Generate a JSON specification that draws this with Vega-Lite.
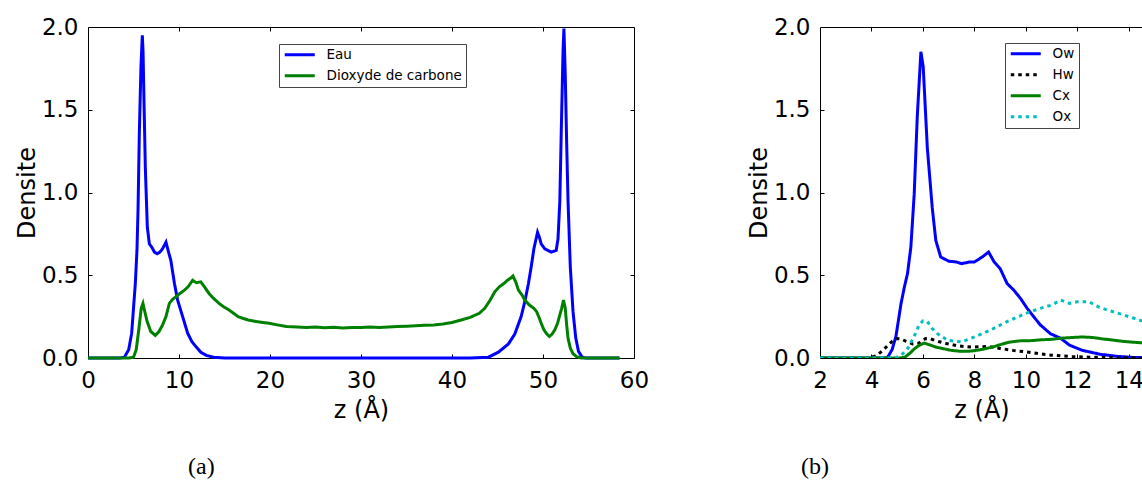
{
  "$schema": "https://vega.github.io/schema/vega-lite/v6.json",
  "padding": {"left": 14, "top": 15, "right": 0, "bottom": 0},
  "spacing": 97,
  "datasets": {
    "a": [
      {"s":"Eau","z":0,"d":0},{"s":"Eau","z":3.5,"d":0},{"s":"Eau","z":4.0,"d":0.005},{"s":"Eau","z":4.47,"d":0.05},{"s":"Eau","z":4.8,"d":0.15},{"s":"Eau","z":5.0,"d":0.3},{"s":"Eau","z":5.2,"d":0.45},{"s":"Eau","z":5.38,"d":0.65},{"s":"Eau","z":5.5,"d":0.9},{"s":"Eau","z":5.64,"d":1.36},{"s":"Eau","z":5.82,"d":1.76},{"s":"Eau","z":5.97,"d":1.95},{"s":"Eau","z":6.05,"d":1.85},{"s":"Eau","z":6.15,"d":1.56},{"s":"Eau","z":6.3,"d":1.15},{"s":"Eau","z":6.52,"d":0.79},{"s":"Eau","z":6.74,"d":0.69},{"s":"Eau","z":7.0,"d":0.67},{"s":"Eau","z":7.3,"d":0.64},{"s":"Eau","z":7.6,"d":0.63},{"s":"Eau","z":7.9,"d":0.64},{"s":"Eau","z":8.2,"d":0.66},{"s":"Eau","z":8.57,"d":0.7},{"s":"Eau","z":8.8,"d":0.65},{"s":"Eau","z":9.1,"d":0.59},{"s":"Eau","z":9.5,"d":0.45},{"s":"Eau","z":9.85,"d":0.35},{"s":"Eau","z":10.4,"d":0.25},{"s":"Eau","z":10.95,"d":0.15},{"s":"Eau","z":11.4,"d":0.1},{"s":"Eau","z":11.9,"d":0.066},{"s":"Eau","z":12.4,"d":0.035},{"s":"Eau","z":13.0,"d":0.016},{"s":"Eau","z":13.8,"d":0.005},{"s":"Eau","z":15,"d":0},{"s":"Eau","z":42,"d":0},{"s":"Eau","z":44,"d":0.005},{"s":"Eau","z":45.1,"d":0.035},{"s":"Eau","z":46.2,"d":0.085},{"s":"Eau","z":46.9,"d":0.145},{"s":"Eau","z":47.6,"d":0.25},{"s":"Eau","z":48.0,"d":0.34},{"s":"Eau","z":48.4,"d":0.45},{"s":"Eau","z":48.7,"d":0.55},{"s":"Eau","z":49.0,"d":0.66},{"s":"Eau","z":49.2,"d":0.71},{"s":"Eau","z":49.4,"d":0.76},{"s":"Eau","z":49.6,"d":0.73},{"s":"Eau","z":49.8,"d":0.69},{"s":"Eau","z":50.2,"d":0.66},{"s":"Eau","z":50.9,"d":0.64},{"s":"Eau","z":51.45,"d":0.65},{"s":"Eau","z":51.65,"d":0.72},{"s":"Eau","z":51.85,"d":0.95},{"s":"Eau","z":52.0,"d":1.35},{"s":"Eau","z":52.1,"d":1.6},{"s":"Eau","z":52.2,"d":1.85},{"s":"Eau","z":52.3,"d":1.99},{"s":"Eau","z":52.45,"d":1.7},{"s":"Eau","z":52.6,"d":1.3},{"s":"Eau","z":52.75,"d":0.95},{"s":"Eau","z":53.0,"d":0.55},{"s":"Eau","z":53.3,"d":0.28},{"s":"Eau","z":53.6,"d":0.12},{"s":"Eau","z":53.9,"d":0.04},{"s":"Eau","z":54.3,"d":0.005},{"s":"Eau","z":54.7,"d":0},{"s":"Eau","z":58.4,"d":0},
      {"s":"Dioxyde de carbone","z":0,"d":0},{"s":"Dioxyde de carbone","z":4.5,"d":0},{"s":"Dioxyde de carbone","z":5.0,"d":0.005},{"s":"Dioxyde de carbone","z":5.3,"d":0.05},{"s":"Dioxyde de carbone","z":5.6,"d":0.18},{"s":"Dioxyde de carbone","z":5.85,"d":0.3},{"s":"Dioxyde de carbone","z":6.04,"d":0.33},{"s":"Dioxyde de carbone","z":6.2,"d":0.29},{"s":"Dioxyde de carbone","z":6.5,"d":0.22},{"s":"Dioxyde de carbone","z":6.9,"d":0.16},{"s":"Dioxyde de carbone","z":7.4,"d":0.137},{"s":"Dioxyde de carbone","z":7.8,"d":0.16},{"s":"Dioxyde de carbone","z":8.2,"d":0.2},{"s":"Dioxyde de carbone","z":8.57,"d":0.25},{"s":"Dioxyde de carbone","z":8.94,"d":0.33},{"s":"Dioxyde de carbone","z":9.3,"d":0.355},{"s":"Dioxyde de carbone","z":9.67,"d":0.37},{"s":"Dioxyde de carbone","z":10.1,"d":0.39},{"s":"Dioxyde de carbone","z":10.6,"d":0.41},{"s":"Dioxyde de carbone","z":11.0,"d":0.43},{"s":"Dioxyde de carbone","z":11.5,"d":0.47},{"s":"Dioxyde de carbone","z":11.9,"d":0.455},{"s":"Dioxyde de carbone","z":12.4,"d":0.46},{"s":"Dioxyde de carbone","z":12.8,"d":0.43},{"s":"Dioxyde de carbone","z":13.3,"d":0.39},{"s":"Dioxyde de carbone","z":13.8,"d":0.36},{"s":"Dioxyde de carbone","z":14.4,"d":0.33},{"s":"Dioxyde de carbone","z":14.9,"d":0.31},{"s":"Dioxyde de carbone","z":15.5,"d":0.29},{"s":"Dioxyde de carbone","z":16.0,"d":0.27},{"s":"Dioxyde de carbone","z":16.5,"d":0.25},{"s":"Dioxyde de carbone","z":17.0,"d":0.24},{"s":"Dioxyde de carbone","z":17.6,"d":0.23},{"s":"Dioxyde de carbone","z":18.5,"d":0.22},{"s":"Dioxyde de carbone","z":19.2,"d":0.215},{"s":"Dioxyde de carbone","z":19.9,"d":0.21},{"s":"Dioxyde de carbone","z":20.8,"d":0.2},{"s":"Dioxyde de carbone","z":21.8,"d":0.19},{"s":"Dioxyde de carbone","z":23,"d":0.188},{"s":"Dioxyde de carbone","z":24,"d":0.185},{"s":"Dioxyde de carbone","z":25,"d":0.187},{"s":"Dioxyde de carbone","z":26,"d":0.183},{"s":"Dioxyde de carbone","z":27,"d":0.186},{"s":"Dioxyde de carbone","z":28,"d":0.182},{"s":"Dioxyde de carbone","z":29,"d":0.185},{"s":"Dioxyde de carbone","z":30,"d":0.184},{"s":"Dioxyde de carbone","z":31,"d":0.187},{"s":"Dioxyde de carbone","z":32,"d":0.185},{"s":"Dioxyde de carbone","z":33,"d":0.188},{"s":"Dioxyde de carbone","z":34,"d":0.19},{"s":"Dioxyde de carbone","z":35,"d":0.192},{"s":"Dioxyde de carbone","z":36,"d":0.195},{"s":"Dioxyde de carbone","z":37,"d":0.198},{"s":"Dioxyde de carbone","z":38,"d":0.2},{"s":"Dioxyde de carbone","z":39,"d":0.205},{"s":"Dioxyde de carbone","z":40,"d":0.215},{"s":"Dioxyde de carbone","z":41,"d":0.23},{"s":"Dioxyde de carbone","z":42,"d":0.245},{"s":"Dioxyde de carbone","z":43,"d":0.27},{"s":"Dioxyde de carbone","z":43.6,"d":0.3},{"s":"Dioxyde de carbone","z":44.2,"d":0.35},{"s":"Dioxyde de carbone","z":44.7,"d":0.4},{"s":"Dioxyde de carbone","z":45.2,"d":0.43},{"s":"Dioxyde de carbone","z":45.7,"d":0.45},{"s":"Dioxyde de carbone","z":46.1,"d":0.47},{"s":"Dioxyde de carbone","z":46.5,"d":0.485},{"s":"Dioxyde de carbone","z":46.7,"d":0.495},{"s":"Dioxyde de carbone","z":47.0,"d":0.46},{"s":"Dioxyde de carbone","z":47.3,"d":0.41},{"s":"Dioxyde de carbone","z":47.7,"d":0.38},{"s":"Dioxyde de carbone","z":48.0,"d":0.35},{"s":"Dioxyde de carbone","z":48.5,"d":0.32},{"s":"Dioxyde de carbone","z":49.0,"d":0.3},{"s":"Dioxyde de carbone","z":49.3,"d":0.28},{"s":"Dioxyde de carbone","z":49.6,"d":0.24},{"s":"Dioxyde de carbone","z":49.8,"d":0.21},{"s":"Dioxyde de carbone","z":50.1,"d":0.17},{"s":"Dioxyde de carbone","z":50.4,"d":0.147},{"s":"Dioxyde de carbone","z":50.7,"d":0.13},{"s":"Dioxyde de carbone","z":51.0,"d":0.145},{"s":"Dioxyde de carbone","z":51.3,"d":0.17},{"s":"Dioxyde de carbone","z":51.6,"d":0.21},{"s":"Dioxyde de carbone","z":51.8,"d":0.25},{"s":"Dioxyde de carbone","z":52.05,"d":0.3},{"s":"Dioxyde de carbone","z":52.25,"d":0.35},{"s":"Dioxyde de carbone","z":52.45,"d":0.3},{"s":"Dioxyde de carbone","z":52.6,"d":0.2},{"s":"Dioxyde de carbone","z":52.75,"d":0.12},{"s":"Dioxyde de carbone","z":53.0,"d":0.06},{"s":"Dioxyde de carbone","z":53.3,"d":0.026},{"s":"Dioxyde de carbone","z":53.7,"d":0.008},{"s":"Dioxyde de carbone","z":54.2,"d":0},{"s":"Dioxyde de carbone","z":58.4,"d":0}
    ],
    "b": [
      {"s":"Ow","z":2,"d":0},{"s":"Ow","z":4.5,"d":0},{"s":"Ow","z":4.63,"d":0.005},{"s":"Ow","z":4.8,"d":0.05},{"s":"Ow","z":4.95,"d":0.13},{"s":"Ow","z":5.15,"d":0.33},{"s":"Ow","z":5.28,"d":0.43},{"s":"Ow","z":5.4,"d":0.51},{"s":"Ow","z":5.53,"d":0.67},{"s":"Ow","z":5.66,"d":0.99},{"s":"Ow","z":5.78,"d":1.46},{"s":"Ow","z":5.92,"d":1.85},{"s":"Ow","z":6.01,"d":1.76},{"s":"Ow","z":6.17,"d":1.27},{"s":"Ow","z":6.36,"d":0.91},{"s":"Ow","z":6.5,"d":0.71},{"s":"Ow","z":6.69,"d":0.61},{"s":"Ow","z":7.0,"d":0.585},{"s":"Ow","z":7.3,"d":0.58},{"s":"Ow","z":7.5,"d":0.57},{"s":"Ow","z":7.8,"d":0.58},{"s":"Ow","z":8.0,"d":0.58},{"s":"Ow","z":8.3,"d":0.61},{"s":"Ow","z":8.55,"d":0.64},{"s":"Ow","z":8.77,"d":0.58},{"s":"Ow","z":9.0,"d":0.54},{"s":"Ow","z":9.27,"d":0.45},{"s":"Ow","z":9.53,"d":0.41},{"s":"Ow","z":9.79,"d":0.36},{"s":"Ow","z":10.05,"d":0.3},{"s":"Ow","z":10.3,"d":0.25},{"s":"Ow","z":10.56,"d":0.2},{"s":"Ow","z":10.95,"d":0.147},{"s":"Ow","z":11.34,"d":0.12},{"s":"Ow","z":11.7,"d":0.077},{"s":"Ow","z":12.2,"d":0.046},{"s":"Ow","z":12.9,"d":0.022},{"s":"Ow","z":13.55,"d":0.01},{"s":"Ow","z":14.2,"d":0.003},{"s":"Ow","z":14.8,"d":0.001},
      {"s":"Hw","z":2,"d":0},{"s":"Hw","z":3.8,"d":0},{"s":"Hw","z":4.0,"d":0.004},{"s":"Hw","z":4.2,"d":0.015},{"s":"Hw","z":4.4,"d":0.04},{"s":"Hw","z":4.6,"d":0.07},{"s":"Hw","z":4.8,"d":0.1},{"s":"Hw","z":4.99,"d":0.117},{"s":"Hw","z":5.15,"d":0.115},{"s":"Hw","z":5.35,"d":0.1},{"s":"Hw","z":5.6,"d":0.085},{"s":"Hw","z":5.85,"d":0.09},{"s":"Hw","z":6.1,"d":0.117},{"s":"Hw","z":6.3,"d":0.115},{"s":"Hw","z":6.6,"d":0.1},{"s":"Hw","z":6.9,"d":0.088},{"s":"Hw","z":7.3,"d":0.075},{"s":"Hw","z":7.7,"d":0.068},{"s":"Hw","z":8.0,"d":0.066},{"s":"Hw","z":8.5,"d":0.07},{"s":"Hw","z":9.0,"d":0.058},{"s":"Hw","z":9.5,"d":0.046},{"s":"Hw","z":10.05,"d":0.036},{"s":"Hw","z":10.5,"d":0.026},{"s":"Hw","z":11.0,"d":0.017},{"s":"Hw","z":11.8,"d":0.008},{"s":"Hw","z":12.5,"d":0.005},{"s":"Hw","z":13.5,"d":0.002},{"s":"Hw","z":14.8,"d":0},
      {"s":"Cx","z":2,"d":0},{"s":"Cx","z":5.1,"d":0},{"s":"Cx","z":5.3,"d":0.005},{"s":"Cx","z":5.5,"d":0.03},{"s":"Cx","z":5.7,"d":0.06},{"s":"Cx","z":5.9,"d":0.08},{"s":"Cx","z":6.05,"d":0.09},{"s":"Cx","z":6.25,"d":0.08},{"s":"Cx","z":6.5,"d":0.066},{"s":"Cx","z":6.8,"d":0.056},{"s":"Cx","z":7.1,"d":0.046},{"s":"Cx","z":7.5,"d":0.04},{"s":"Cx","z":7.9,"d":0.042},{"s":"Cx","z":8.3,"d":0.052},{"s":"Cx","z":8.7,"d":0.066},{"s":"Cx","z":9.1,"d":0.085},{"s":"Cx","z":9.4,"d":0.097},{"s":"Cx","z":9.8,"d":0.104},{"s":"Cx","z":10.2,"d":0.105},{"s":"Cx","z":10.6,"d":0.11},{"s":"Cx","z":11.0,"d":0.113},{"s":"Cx","z":11.4,"d":0.12},{"s":"Cx","z":11.8,"d":0.124},{"s":"Cx","z":12.2,"d":0.127},{"s":"Cx","z":12.6,"d":0.124},{"s":"Cx","z":13.0,"d":0.115},{"s":"Cx","z":13.4,"d":0.108},{"s":"Cx","z":13.8,"d":0.1},{"s":"Cx","z":14.2,"d":0.095},{"s":"Cx","z":14.8,"d":0.089},
      {"s":"Ox","z":2,"d":0},{"s":"Ox","z":4.9,"d":0},{"s":"Ox","z":5.15,"d":0.016},{"s":"Ox","z":5.4,"d":0.056},{"s":"Ox","z":5.66,"d":0.13},{"s":"Ox","z":5.85,"d":0.2},{"s":"Ox","z":6.0,"d":0.225},{"s":"Ox","z":6.17,"d":0.22},{"s":"Ox","z":6.35,"d":0.18},{"s":"Ox","z":6.56,"d":0.147},{"s":"Ox","z":6.96,"d":0.107},{"s":"Ox","z":7.5,"d":0.097},{"s":"Ox","z":8.0,"d":0.127},{"s":"Ox","z":8.6,"d":0.167},{"s":"Ox","z":9.27,"d":0.22},{"s":"Ox","z":10.0,"d":0.27},{"s":"Ox","z":10.56,"d":0.3},{"s":"Ox","z":11.0,"d":0.32},{"s":"Ox","z":11.35,"d":0.35},{"s":"Ox","z":11.7,"d":0.33},{"s":"Ox","z":12.0,"d":0.34},{"s":"Ox","z":12.45,"d":0.34},{"s":"Ox","z":12.8,"d":0.31},{"s":"Ox","z":13.16,"d":0.29},{"s":"Ox","z":13.6,"d":0.27},{"s":"Ox","z":14.0,"d":0.25},{"s":"Ox","z":14.45,"d":0.227},{"s":"Ox","z":14.8,"d":0.215}
    ],
    "anchorA": [{"z": 0, "d": 0}],
    "anchorB": [{"z": 2, "d": 0}]
  },
  "hconcat": [
    {
      "width": 546,
      "height": 331,
      "title": {"text": "(a)", "orient": "bottom", "anchor": "start", "frame": "group", "dx": 100, "offset": 33},
      "layer": [
        {
          "data": {"name": "a"},
          "mark": {"type": "line", "strokeWidth": 3},
          "encoding": {
            "x": {"field": "z", "type": "quantitative", "scale": {"domain": [0, 60], "nice": false, "zero": false},
                  "axis": {"orient": "bottom", "values": [0, 10, 20, 30, 40, 50, 60], "title": "z (Å)", "ticks": false, "labelFlush": false}},
            "y": {"field": "d", "type": "quantitative", "scale": {"domain": [0, 2], "nice": false},
                  "axis": {"orient": "left", "values": [0, 0.5, 1, 1.5, 2], "format": ".1f", "title": "Densite", "ticks": false}},
            "color": {"field": "s", "type": "nominal",
                      "scale": {"domain": ["Eau", "Dioxyde de carbone"], "range": ["#0000ff", "#008000"]},
                      "legend": {"orient": "none", "legendX": 191, "legendY": 17, "title": null, "symbolType": "M-1,0L5,0"}}
          }
        },
        {
          "data": {"name": "anchorA"},
          "mark": {"type": "point", "opacity": 0},
          "encoding": {
            "x": {"field": "z", "type": "quantitative",
                  "axis": {"orient": "bottom", "offset": -4, "tickSize": 4, "labels": false, "domain": false, "title": null, "values": [10, 20, 30, 40, 50]}},
            "y": {"field": "d", "type": "quantitative",
                  "axis": {"orient": "left", "offset": -4, "tickSize": 4, "labels": false, "domain": false, "title": null, "values": [0.5, 1, 1.5]}}
          }
        },
        {
          "data": {"name": "anchorA"},
          "mark": {"type": "point", "opacity": 0},
          "encoding": {
            "x": {"field": "z", "type": "quantitative",
                  "axis": {"orient": "top", "offset": -4, "tickSize": 4, "labels": false, "domain": false, "title": null, "values": [10, 20, 30, 40, 50]}},
            "y": {"field": "d", "type": "quantitative",
                  "axis": {"orient": "right", "offset": -4, "tickSize": 4, "labels": false, "domain": false, "title": null, "values": [0.5, 1, 1.5]}}
          }
        }
      ],
      "resolve": {"axis": {"x": "independent", "y": "independent"}}
    },
    {
      "width": 323,
      "height": 331,
      "view": {"stroke": null},
      "title": {"text": "(b)", "orient": "bottom", "anchor": "start", "frame": "group", "dx": -19, "offset": 33},
      "layer": [
        {
          "data": {"name": "b"},
          "mark": {"type": "line", "strokeWidth": 3, "clip": true},
          "encoding": {
            "x": {"field": "z", "type": "quantitative", "scale": {"domain": [2, 14.55], "nice": false, "zero": false},
                  "axis": {"orient": "bottom", "values": [2, 4, 6, 8, 10, 12, 14], "title": "z (Å)", "ticks": false, "labelFlush": false}},
            "y": {"field": "d", "type": "quantitative", "scale": {"domain": [0, 2], "nice": false},
                  "axis": {"orient": "left", "values": [0, 0.5, 1, 1.5, 2], "format": ".1f", "title": "Densite", "ticks": false}},
            "color": {"field": "s", "type": "nominal",
                      "scale": {"domain": ["Ow", "Hw", "Cx", "Ox"], "range": ["#0000ff", "#000000", "#008000", "#00bfbf"]},
                      "legend": {"orient": "none", "legendX": 185, "legendY": 16, "title": null, "symbolType": "M-1,0L5,0"}},
            "strokeDash": {"field": "s", "type": "nominal",
                      "scale": {"domain": ["Ow", "Hw", "Cx", "Ox"], "range": [[1, 0], [3.5, 4], [1, 0], [3.5, 4]]},
                      "legend": {"orient": "none", "legendX": 185, "legendY": 16, "title": null, "symbolType": "M-1,0L5,0"}}
          }
        },
        {
          "data": {"name": "anchorB"},
          "mark": {"type": "point", "opacity": 0},
          "encoding": {
            "x": {"field": "z", "type": "quantitative",
                  "axis": {"orient": "bottom", "offset": -4, "tickSize": 4, "labels": false, "domain": false, "title": null, "values": [4, 6, 8, 10, 12, 14]}},
            "y": {"field": "d", "type": "quantitative",
                  "axis": {"orient": "left", "offset": -4, "tickSize": 4, "labels": false, "domain": false, "title": null, "values": [0.5, 1, 1.5]}}
          }
        },
        {
          "data": {"name": "anchorB"},
          "mark": {"type": "point", "opacity": 0},
          "encoding": {
            "x": {"field": "z", "type": "quantitative",
                  "axis": {"orient": "top", "offset": -4, "tickSize": 4, "labels": false, "domain": false, "title": null, "values": [4, 6, 8, 10, 12, 14]}}
          }
        },
        {
          "data": {"name": "anchorB"},
          "mark": {"type": "point", "opacity": 0},
          "encoding": {
            "x": {"field": "z", "type": "quantitative",
                  "axis": {"orient": "top", "ticks": false, "labels": false, "domain": true, "title": null}}
          }
        }
      ],
      "resolve": {"axis": {"x": "independent", "y": "independent"}}
    }
  ],
  "resolve": {
    "scale": {"color": "independent", "strokeDash": "independent", "x": "independent", "y": "independent"},
    "legend": {"color": "independent", "strokeDash": "independent"}
  },
  "config": {
    "font": "DejaVu Sans",
    "view": {"stroke": "black", "strokeWidth": 1},
    "axis": {
      "grid": false,
      "domainColor": "black",
      "tickColor": "black",
      "labelColor": "black",
      "titleColor": "black",
      "labelFont": "DejaVu Sans",
      "titleFont": "DejaVu Sans",
      "labelFontSize": 23,
      "titleFontSize": 24,
      "titleFontWeight": "normal",
      "labelOverlap": false
    },
    "axisX": {"labelPadding": 11, "titlePadding": 6},
    "axisY": {"labelPadding": 10, "titlePadding": 2},
    "legend": {
      "labelFont": "DejaVu Sans",
      "labelFontSize": 13.5,
      "labelColor": "black",
      "strokeColor": "#444444",
      "fillColor": "white",
      "padding": 4,
      "symbolSize": 100,
      "symbolStrokeWidth": 3,
      "labelOffset": 30,
      "rowPadding": 6
    },
    "title": {"font": "Liberation Serif", "fontSize": 24, "fontWeight": "normal", "color": "black"}
  }
}
